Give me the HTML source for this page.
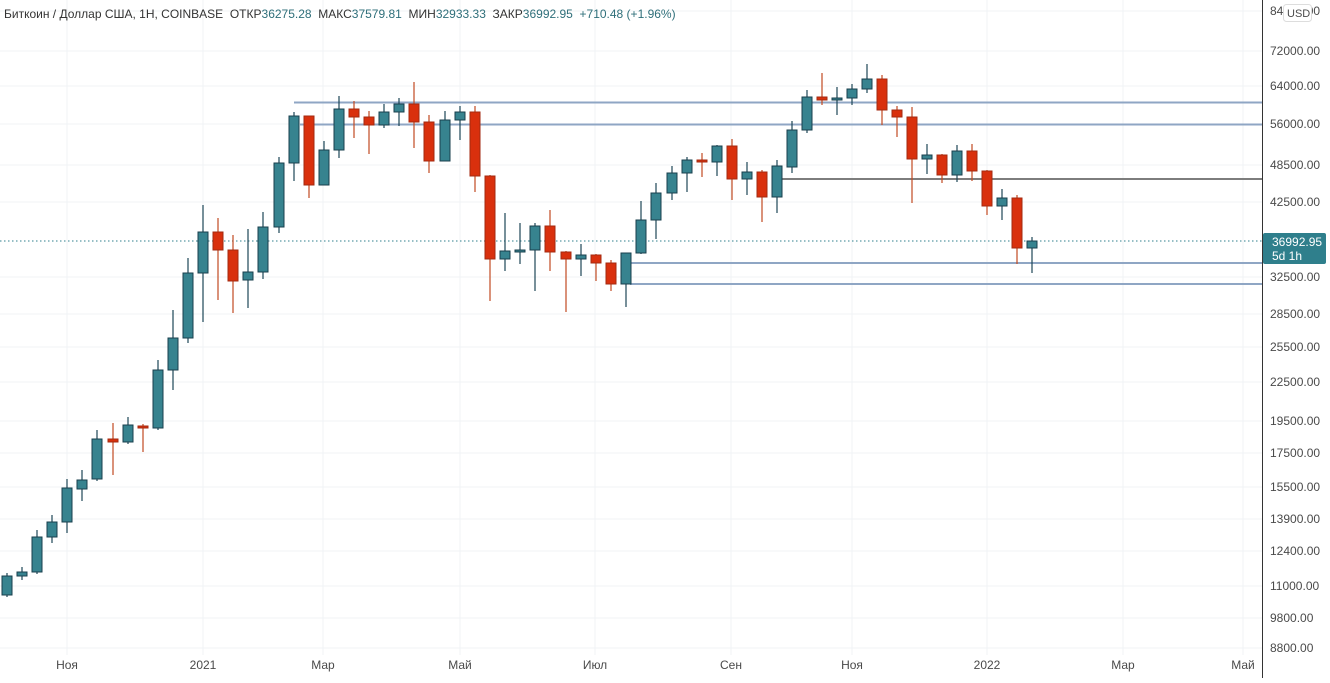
<!DOCTYPE html>
<html><head><meta charset="utf-8"><style>
body{margin:0;width:1330px;height:678px;overflow:hidden;background:#fff;font-family:"Liberation Sans","DejaVu Sans",sans-serif}
svg text{font-family:"Liberation Sans","DejaVu Sans",sans-serif;font-size:12px;fill:#4a4a4a}
</style></head><body>
<svg id="s" width="1330" height="678" xmlns="http://www.w3.org/2000/svg"></svg>
<script>
var s=document.getElementById('s'),h='';
var ys=[[11,'84000.00'],[51,'72000.00'],[86,'64000.00'],[124,'56000.00'],[165,'48500.00'],[202,'42500.00'],[277,'32500.00'],[314,'28500.00'],[347,'25500.00'],[382,'22500.00'],[421,'19500.00'],[453,'17500.00'],[487,'15500.00'],[519,'13900.00'],[551,'12400.00'],[586,'11000.00'],[618,'9800.00'],[648,'8800.00']];
ys.forEach(function(a){h+='<line x1="0" x2="1262" y1="'+a[0]+'" y2="'+a[0]+'" stroke="#f0f3f5"/>';});
var xs=[[67,'Ноя'],[203,'2021'],[323,'Мар'],[460,'Май'],[595,'Июл'],[731,'Сен'],[852,'Ноя'],[987,'2022'],[1123,'Мар'],[1243,'Май']];
xs.forEach(function(a){h+='<line x1="'+a[0]+'" x2="'+a[0]+'" y1="0" y2="655" stroke="#f0f3f5"/>';});
h+='<line x1="0" x2="1262" y1="241" y2="241" stroke="#2f7f8c" stroke-dasharray="1.5,2.5"/>';
h+='<line x1="294" x2="1262" y1="102.5" y2="102.5" stroke="#8fa6c4" stroke-width="2"/>';
h+='<line x1="300" x2="1262" y1="124.5" y2="124.5" stroke="#8fa6c4" stroke-width="2"/>';
h+='<line x1="630" x2="1262" y1="263" y2="263" stroke="#8fa6c4" stroke-width="2"/>';
h+='<line x1="630" x2="1262" y1="284" y2="284" stroke="#8fa6c4" stroke-width="2"/>';
h+='<line x1="777" x2="1262" y1="179" y2="179" stroke="#7d7d7d" stroke-width="2"/>';
var c=[[7,576,595,573,597,1],[22,572,576,567,580,1],[37,537,572,530,574,1],[52,522,537,515,543,1],[67,488,522,479,533,1],[82,480,489,470,501,1],[97,439,479,430,481,1],[113,439,442,423,475,0],[128,425,442,417,444,1],[143,426,428,424,452,0],[158,370,428,360,430,1],[173,338,370,310,390,1],[188,273,338,258,343,1],[203,232,273,205,322,1],[218,232,250,218,300,0],[233,250,281,235,313,0],[248,272,280,229,308,1],[263,227,272,212,279,1],[279,163,227,157,233,1],[294,116,163,112,181,1],[309,116,185,116,198,0],[324,150,185,141,185,1],[339,109,150,96,158,1],[354,109,117,101,138,0],[369,117,125,111,154,0],[384,112,125,104,128,1],[399,104,112,98,126,1],[414,104,122,82,148,0],[429,122,161,115,173,0],[445,120,161,111,161,1],[460,112,120,106,140,1],[475,112,176,106,192,0],[490,176,259,175,301,0],[505,251,259,213,271,1],[520,250,251,223,264,1],[535,226,250,223,291,1],[550,226,252,210,271,0],[566,252,259,251,312,0],[581,255,259,244,276,1],[596,255,263,254,281,0],[611,263,284,260,291,0],[626,253,284,253,307,1],[641,220,253,201,254,1],[656,193,220,183,239,1],[672,173,193,166,200,1],[687,160,173,157,192,1],[702,160,162,153,177,0],[717,146,162,145,176,1],[732,146,179,139,200,0],[747,172,179,162,195,1],[762,172,197,170,222,0],[777,166,197,160,213,1],[792,130,167,121,173,1],[807,97,130,90,133,1],[822,97,100,73,105,0],[837,98,100,87,115,1],[852,89,98,84,105,1],[867,79,89,64,93,1],[882,79,110,75,125,0],[897,110,117,106,137,0],[912,117,159,107,203,0],[927,155,159,144,174,1],[942,155,175,154,183,0],[957,151,175,145,182,1],[972,151,171,144,181,0],[987,171,206,170,215,0],[1002,198,206,189,220,1],[1017,198,248,195,264,0],[1032,241,248,237,273,1]];
c.forEach(function(k){var up=k[5],f=up?'#37838f':'#d9300d',b=up?'#183f4c':'#a32a10',w=up?'#1d4656':'#c24a22';
h+='<line x1="'+k[0]+'" x2="'+k[0]+'" y1="'+k[3]+'" y2="'+k[4]+'" stroke="'+w+'" stroke-width="1.2"/>';
var hh=Math.max(k[2]-k[1],2);h+='<rect x="'+(k[0]-5)+'" y="'+k[1]+'" width="10" height="'+hh+'" fill="'+f+'" stroke="'+b+'" stroke-width="1"/>';});
h+='<line x1="1262.5" x2="1262.5" y1="0" y2="678" stroke="#333"/>';
ys.forEach(function(a){h+='<text x="1270" y="'+(a[0]+4)+'">'+a[1]+'</text>';});
h+='<rect x="1263" y="233" width="63" height="31" rx="2" fill="#2f7f8c"/><text x="1272" y="246" style="fill:#fff">36992.95</text><text x="1272" y="260" style="fill:#fff">5d 1h</text>';
h+='<rect x="1283.5" y="4.5" width="28" height="17" rx="3" fill="#fff" stroke="#ddd"/><text x="1287" y="17" style="font-size:11px">USD</text>';
xs.forEach(function(a){h+='<text x="'+a[0]+'" y="669" text-anchor="middle">'+a[1]+'</text>';});
h+='<text x="4" y="18" style="font-size:12px;fill:#333" xml:space="preserve">Биткоин / Доллар США, 1Н, COINBASE  ОТКР<tspan style="fill:#2f6f7a">36275.28</tspan>  МАКС<tspan style="fill:#2f6f7a">37579.81</tspan>  МИН<tspan style="fill:#2f6f7a">32933.33</tspan>  ЗАКР<tspan style="fill:#2f6f7a">36992.95  +710.48 (+1.96%)</tspan></text>';
s.innerHTML=h;
</script>
</body></html>
